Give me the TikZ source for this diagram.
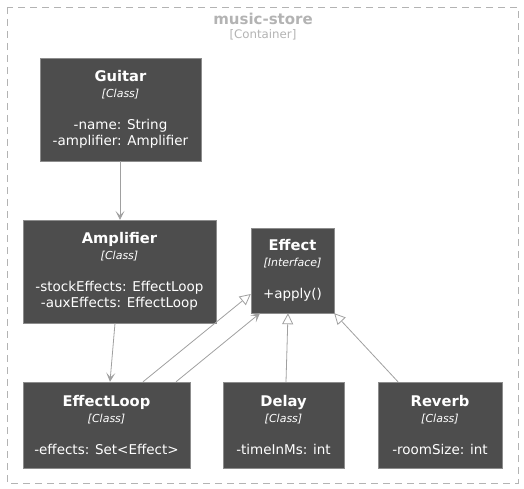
\documentclass[tikz,border=0pt]{standalone}
\usepackage{xcolor}
\usepackage{fontspec}
\setmainfont{DejaVu Sans}
\usepackage{tikz}
\usetikzlibrary{arrows.meta}

\definecolor{boxfill}{HTML}{4D4D4D}
\definecolor{boxline}{HTML}{8C8C8C}
\definecolor{edgegray}{HTML}{A0A0A0}
\definecolor{framegray}{HTML}{B3B3B3}

\begin{document}
\begin{tikzpicture}[x=1pt, y=-1pt,
    umlbox/.style={draw=boxline, fill=boxfill, text=white, align=center,
        inner sep=0pt, font=\fontsize{13.5}{16}\selectfont},
    uses/.style={draw=edgegray, line width=0.8pt,
        -{Stealth[length=9pt, width=9pt, inset=4.5pt, fill=edgegray]}},
    realizes/.style={draw=edgegray, line width=0.8pt,
        -{Triangle[open, length=11pt, width=11pt, fill=white]}}]
            \useasboundingbox (0,0) rectangle (524,489);

            % Container
            \draw[framegray, dash pattern=on 7pt off 5pt] (7,7) rectangle (518,483);
            \node[text=framegray] (title) at (263,19) {\fontsize{15}{16}\selectfont\bfseries music-store};
            \node[text=framegray] (kind) at (263,35) {\fontsize{11.8}{12}\selectfont [Container]};

            % Classes
            \node[umlbox, minimum width=161, minimum height=103] (Guitar) at (120.5,109.5)
                {{\fontsize{14.7}{16}\selectfont\bfseries Guitar}\\{\fontsize{11}{16}\selectfont\itshape [Class]}\\[16pt]-name: String\\-amplifier: Amplifier};
            \node[umlbox, minimum width=193, minimum height=103] (Amplifier) at (119.5,271.5)
                {{\fontsize{14.7}{16}\selectfont\bfseries Amplifier}\\{\fontsize{11}{16}\selectfont\itshape [Class]}\\[16pt]-stockEffects: EffectLoop\\-auxEffects: EffectLoop};
            \node[umlbox, minimum width=83, minimum height=85] (Effect) at (292.5,270.5)
                {{\fontsize{14.7}{16}\selectfont\bfseries Effect}\\{\fontsize{11}{16}\selectfont\itshape [Interface]}\\[16pt]+apply()};
            \node[umlbox, minimum width=167, minimum height=86] (EffectLoop) at (106.5,425)
                {{\fontsize{14.7}{16}\selectfont\bfseries EffectLoop}\\{\fontsize{11}{16}\selectfont\itshape [Class]}\\[16pt]-effects: Set<Effect>};
            \node[umlbox, minimum width=121, minimum height=86] (Delay) at (283.5,425)
                {{\fontsize{14.7}{16}\selectfont\bfseries Delay}\\{\fontsize{11}{16}\selectfont\itshape [Class]}\\[16pt]-timeInMs: int};
            \node[umlbox, minimum width=124, minimum height=86] (Reverb) at (440,425)
                {{\fontsize{14.7}{16}\selectfont\bfseries Reverb}\\{\fontsize{11}{16}\selectfont\itshape [Class]}\\[16pt]-roomSize: int};

            % Associations
            \draw[uses] ([xshift=-0.5pt]Guitar.south) -- ([xshift=0.5pt]Amplifier.north);
            \draw[uses] ([xshift=-4.5pt]Amplifier.south) -- ([xshift=3.5pt]EffectLoop.north);
            \draw[uses] ([xshift=69.5pt]EffectLoop.north) -- ([xshift=-32.5pt]Effect.south);

            % Realizations
            \draw[realizes] ([xshift=36.5pt]EffectLoop.north) -- ([yshift=-23.5pt]Effect.west);
            \draw[realizes] ([xshift=2.5pt]Delay.north) -- ([xshift=-4.5pt]Effect.south);
            \draw[realizes] ([xshift=-42pt]Reverb.north) -- (Effect.south east);
         \end{tikzpicture}
\end{document}
